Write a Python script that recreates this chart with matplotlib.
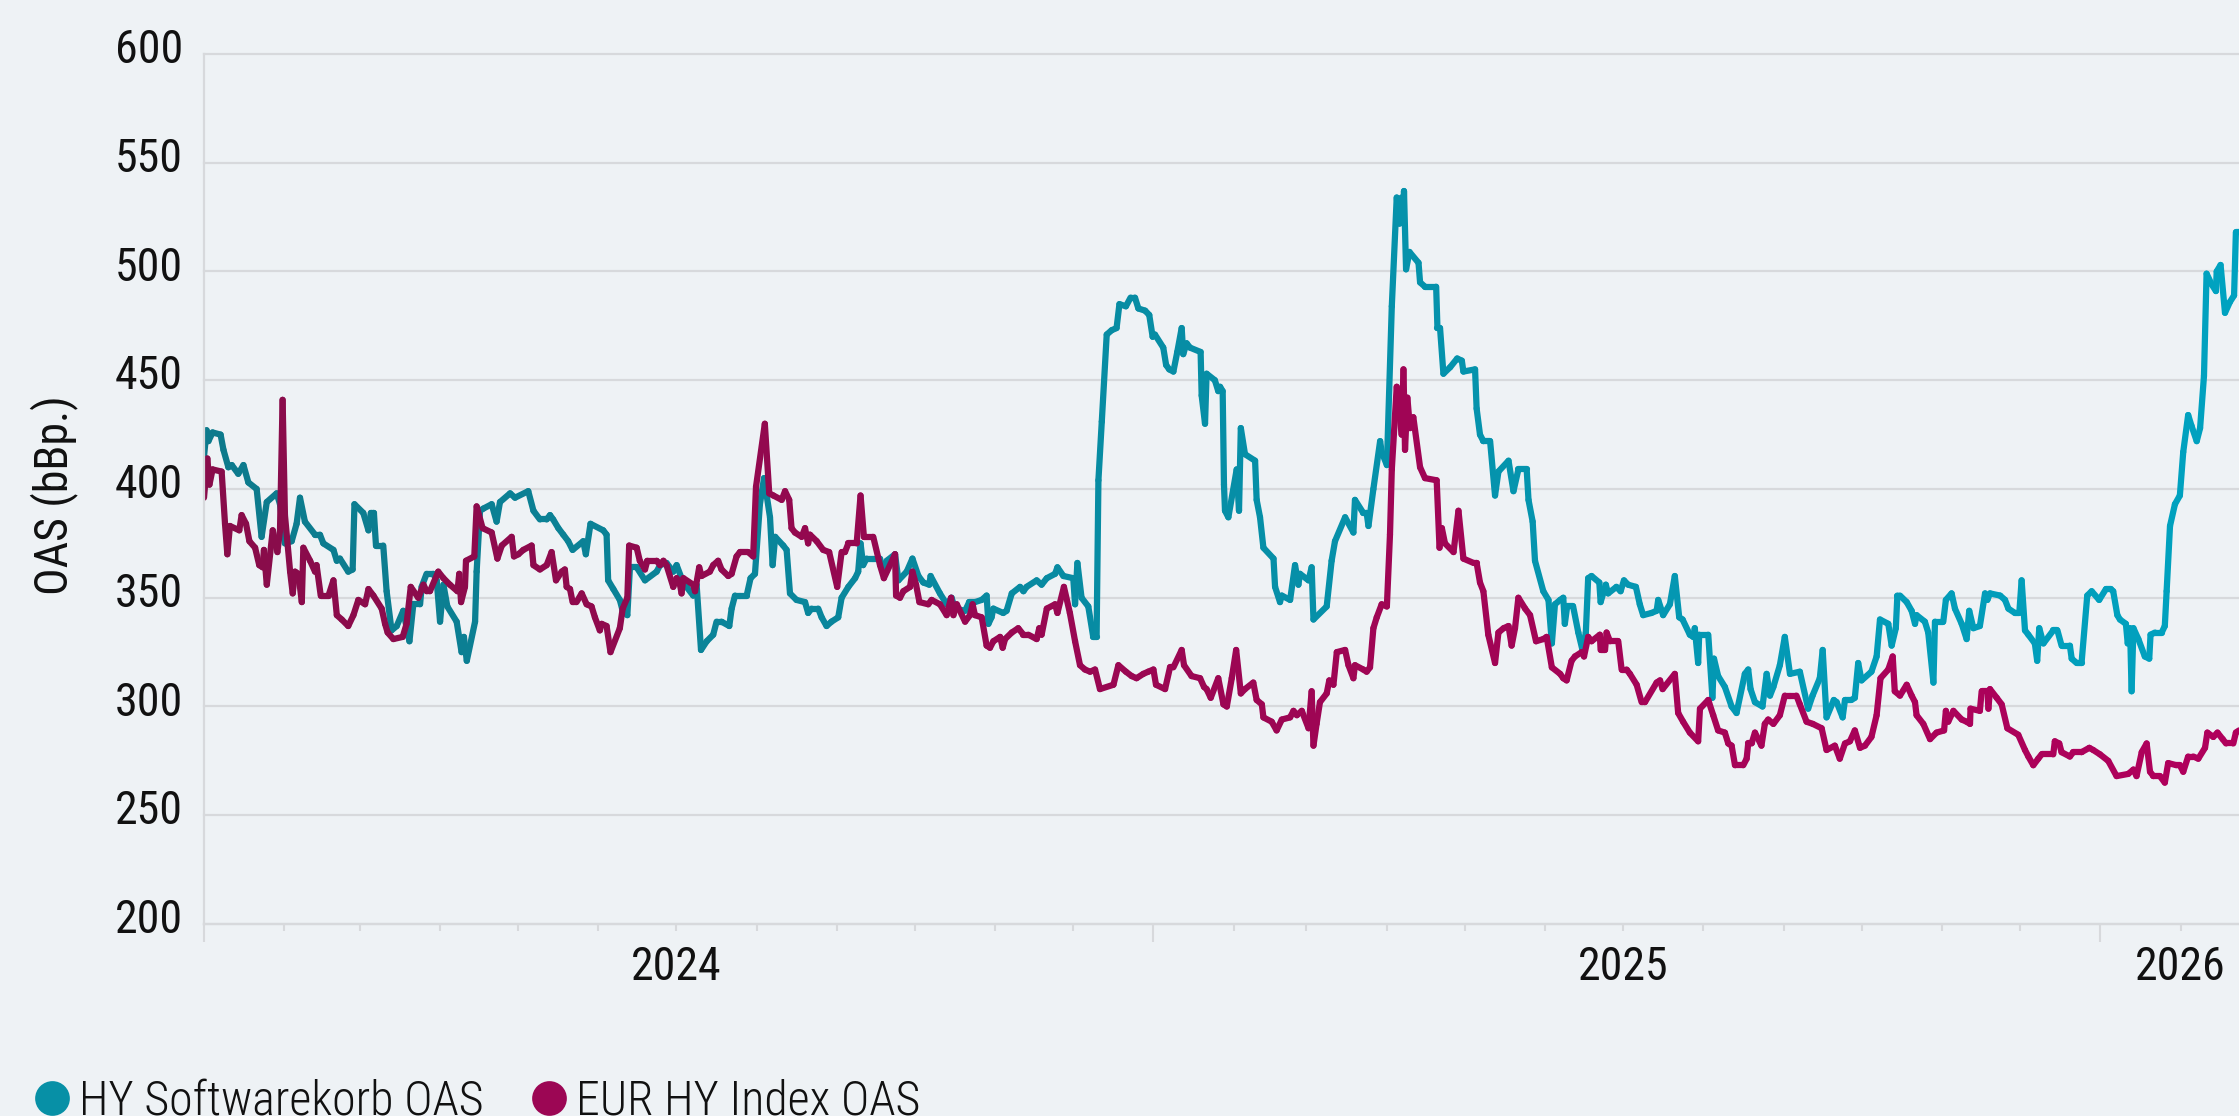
import numpy as np
import pandas as pd
import matplotlib
matplotlib.use('Agg')
import matplotlib.pyplot as plt
import matplotlib.dates as mdates
import matplotlib.transforms as mtransforms
from matplotlib.collections import LineCollection
from matplotlib.colors import LinearSegmentedColormap
from matplotlib.lines import Line2D
from matplotlib import font_manager

# pick a font close to the original (Roboto Condensed if we have it)
avail = {f.name for f in font_manager.fontManager.ttflist}
for fam in ['Roboto Condensed', 'Roboto', 'DejaVu Sans']:
    if fam in avail:
        plt.rcParams['font.family'] = fam
        break

start = pd.Timestamp('2024-01-01')

# HY Softwarekorb OAS: days since 1 Jan 2024 / spread in bp
sw_day = [0, 1, 1.7, 3.3, 6.4, 7.5, 9.4, 10.7, 13.2, 15.2, 17.1, 20.3, 22.2, 24.2, 28.0, 29.3,
          31.2, 33.8, 35.7, 37.0, 38.9, 42.8, 44.7, 46.0, 49.9, 51.2, 52.4, 55.6, 57.3, 58.0,
          61.4, 63.4, 64.3, 65.5, 66.3, 69.1, 70.4, 72.3, 74.3, 76.8, 79.2, 80.7, 83.3, 83.9,
          85.8, 88.4, 89.7, 91.0, 92.3, 93.8, 97.4, 99.3, 100.2, 101.3, 104.5, 105.1, 106.4,
          107.7, 110.9, 112.8, 114.1, 118.0, 119.9, 125.0, 127.0, 129.5,
          132.1, 133.4, 134.6, 136.6, 138.5, 140.4, 142.1, 146.2, 147.2, 149.0, 153.9, 155.2,
          155.8, 157.8, 160.3, 161.4, 163.2, 164.2, 166.8, 170.0, 174.5, 175.8, 178.3, 180.9,
          182.2, 184.1, 186.0, 188.6, 189.9, 191.6, 193.8, 196.3, 197.6, 199.5, 202.5, 203.4,
          204.7, 206.6, 209.2, 210.7, 212.4, 214.3, 215.9, 218.2, 219.2, 220.2, 223.3, 224.6,
          225.9, 228.4, 231.7, 232.9, 234.2, 236.8, 238.1, 240.0, 241.9, 244.5, 245.8, 248.4,
          251.0, 252.2, 253.1, 254.1, 255.4, 258.0, 260.6,
          261.9, 263.2, 266.4, 267.7, 270.9, 273.1, 275.4, 277.3, 279.6, 280.1, 283.7, 286.3,
          288.2, 289.5, 293.4, 295.0, 297.2, 299.8, 301.7, 302.4, 303.6, 304.3, 308.1, 309.4,
          311.4, 314.6, 315.9, 317.1, 321.0, 322.9, 324.9, 328.1, 329.0, 331.3, 335.1, 335.8,
          336.7, 338.3, 340.9, 342.8, 344.1, 344.8, 346.1, 348.0, 349.9, 351.8, 352.9, 355.4,
          357.2, 358.9, 360.2, 362.8, 364.4, 365.7, 366.6, 369.8, 370.9, 372.1, 373.7, 375.2,
          376.9, 377.5, 378.8, 380.1, 384.2, 384.6, 385.9, 386.5, 389.7, 391.0,
          391.7, 392.7, 393.2, 393.6, 394.9, 398.1, 399.0, 399.7, 401.3, 405.2, 405.8, 407.1,
          408.4, 412.3, 412.9, 414.8, 415.5, 418.7, 420.6, 421.9, 422.5, 425.8, 427.0, 427.7,
          432.8, 434.7, 436.0, 439.9, 443.1, 443.7, 446.9, 448.2, 448.9, 450.8, 453.4, 454.0,
          456.0, 457.9, 459.8, 460.8, 461.7, 462.4, 462.6, 463.4, 464.7, 468.2, 468.8, 470.7,
          475.0, 475.5, 476.5, 477.8, 480.4, 483.1, 484.9, 485.5, 490.0, 490.6, 491.9, 493.2,
          495.8, 497.7, 499.0, 502.9, 504.8, 506.7, 509.9, 510.6, 512.2, 513.1, 516.3, 518.3,
          519.6, 520.8, 522.8,
          524.0, 524.6, 525.5, 527.8, 529.8, 531.4, 532.7, 533.6, 534.9, 537.9, 538.4, 540.4,
          541.3, 544.5, 546.1, 547.4, 549.0, 552.0, 553.5, 554.8, 558.0, 560.0, 560.6, 562.5,
          565.1, 567.0, 568.7, 570.0, 572.8, 574.1, 574.7, 576.0, 576.4, 579.9, 581.5, 582.1,
          583.7, 586.3, 588.9, 590.8, 594.0, 595.3, 596.2, 597.9, 600.8, 602.4, 603.7, 605.0,
          607.5, 609.4, 611.4, 615.2, 618.4, 620.1, 622.9, 624.0, 625.5, 628.3, 629.4, 631.7,
          632.6, 635.1, 636.4, 637.7, 639.0, 642.8, 644.8, 646.1, 649.3, 650.6, 652.2, 652.8,
          653.8, 656.4, 658.3, 659.6, 660.2, 663.4, 664.7, 666.7, 667.3, 670.5, 671.5, 673.7,
          675.0, 677.6, 679.5, 680.5, 682.1, 684.6, 686.6, 687.5, 688.5, 692.4, 694.3, 695.6,
          698.1, 699.8, 700.7, 702.0, 703.3, 705.8, 706.7, 707.5, 709.1, 712.9, 714.5, 716.1,
          719.3, 720.0, 721.9, 723.8, 726.0, 727.7, 730.6, 733.2, 735.0, 736.0, 737.6, 738.6,
          740.9, 741.6, 742.5, 743.1, 743.8, 745.7, 748.2, 749.9, 750.4, 752.1, 754.7, 755.9,
          756.6, 757.9, 759.8, 761.7, 763.0, 764.9, 766.2, 768.2, 769.5, 771.0, 772.0, 774.0,
          775.6, 775.9, 777.4, 779.1, 781.0, 782.6, 783.3, 784.5]
sw_oas = [415, 427, 422, 426, 425, 418, 410, 411, 407, 411, 403, 400, 378, 394, 398, 393,
          375, 376, 384, 396, 385, 379, 379, 375, 372, 367, 368, 362, 363, 393,
          389, 381, 389, 389, 374, 374, 353, 335, 337, 344, 330, 347, 347, 355,
          361, 361, 358, 339, 356, 346, 339, 325, 332, 321, 339, 362, 390,
          391, 393, 385, 394, 398, 396, 399, 390, 386,
          386, 388, 386, 382, 379, 376, 372, 376, 370, 384, 381, 379,
          358, 354, 349, 344, 342, 364, 364, 358, 362, 365, 366, 362,
          365, 359, 355, 351, 356, 326, 330, 333, 339, 339, 337, 345,
          351, 351, 351, 359, 361, 393, 405, 387, 365, 378, 374, 372,
          352, 349, 348, 343, 345, 345, 341, 337, 339, 341, 350, 355,
          359, 362, 375, 365, 368, 368, 368,
          362, 367, 370, 358, 362, 368, 360, 357, 356, 360, 352, 347,
          350, 345, 344, 348, 348, 349, 351, 338, 341, 345, 343, 344,
          352, 355, 353, 355, 358, 356, 359, 361, 364, 360, 359, 347,
          366, 350, 346, 332, 332, 404, 431, 471, 473, 474, 485, 484,
          488, 488, 483, 482, 480, 470, 471, 465, 457, 455, 454, 463,
          474, 462, 467, 465, 463, 443, 430, 453, 450, 445,
          447, 445, 402, 390, 387, 409, 390, 428, 416, 413, 395, 387,
          373, 368, 355, 348, 351, 349, 365, 356, 361, 358, 364, 340,
          346, 367, 376, 387, 380, 395, 389, 389, 383, 400, 422, 417,
          411, 484, 534, 522, 534, 522, 537, 501, 509, 504, 495, 493,
          493, 474, 474, 453, 456, 460, 459, 454, 455, 437, 425, 422,
          422, 397, 408, 413, 399, 409, 409, 395, 385, 367, 353, 349,
          329, 347, 349,
          350, 338, 346, 346, 334, 326, 334, 359, 360, 357, 348, 356,
          352, 355, 353, 358, 356, 355, 347, 342, 343, 344, 349, 342,
          347, 360, 341, 340, 333, 332, 336, 320, 333, 333, 304, 322,
          314, 309, 300, 297, 315, 317, 308, 302, 300, 315, 305, 309,
          319, 332, 315, 316, 299, 305, 313, 326, 295, 303, 302, 295,
          303, 303, 304, 320, 312, 316, 323, 340, 338, 328, 336, 351,
          351, 348, 344, 338, 342, 339, 334, 311, 339, 339, 349, 352,
          345, 338, 331, 344, 336, 337, 352, 349, 352, 351, 349, 345,
          343, 343, 358, 335, 333, 329, 321, 336, 329, 335, 335, 328,
          328, 322, 320, 320, 351, 353, 349, 354, 354, 353, 342, 340,
          338, 329, 336, 307, 336, 331, 323, 322, 333, 334, 334, 337,
          353, 383, 393, 397, 417, 434, 429, 422, 428, 452, 499, 494,
          491, 500, 503, 481, 486, 489, 518, 518]

# EUR HY Index OAS
eur_day = [0, 1.3, 2.1, 3.3, 6.8, 8.1, 9.0, 10.0, 13.6, 14.5, 16.2, 17.5, 19.7, 21.3, 22.6,
           23.1, 24.2, 26.5, 28.3, 29.3, 30.3, 31.2, 33.2, 34.2, 35.1, 36.4, 37.7, 38.3, 40.9,
           42.8, 43.4, 45.0, 48.0, 49.9, 51.2, 53.1, 55.6, 57.6, 59.5, 62.1, 63.4, 65.3, 68.5,
           69.8, 70.8, 73.0, 76.6, 78.1, 79.7, 82.6, 84.6, 85.8, 87.1, 90.3, 92.3, 94.8, 97.7,
           98.4, 99.1, 100.6, 101.0, 104.2, 105.1, 107.4, 110.9, 113.1, 114.8, 118.6, 119.5,
           121.2, 123.1, 126.3, 127.0, 129.5,
           132.1, 134.0, 135.7, 137.9, 139.1, 139.8, 141.1, 142.1, 143.6, 145.6, 147.5, 149.4,
           150.7, 152.6, 153.3, 155.2, 156.7, 160.3, 161.4, 163.2, 163.9, 166.8, 168.0, 170.0,
           170.9, 174.5, 175.8, 177.1, 178.3, 180.9, 182.2, 183.5, 184.1, 184.8, 188.6, 189.3,
           190.9, 191.8, 195.0, 196.3, 198.2, 199.5, 202.1, 203.4, 205.3, 206.6, 209.8, 211.7,
           212.8, 216.2, 217.9, 219.5, 222.7, 224.0, 225.6, 226.5, 227.8, 230.4, 231.7, 232.9,
           233.6, 236.2, 238.7, 241.0, 244.1, 245.8, 247.1, 248.4, 251.6, 253.1, 254.4, 258.0,
           260.6,
           262.1, 266.4, 266.8, 268.3, 269.6, 272.2, 273.1, 274.5, 275.8, 279.2, 280.5, 283.7,
           286.3, 288.0, 288.9, 290.2, 293.4, 295.3, 296.3, 297.2, 299.8, 301.7, 303.0, 304.3,
           306.9, 307.9, 308.8, 311.4, 313.9, 315.9, 317.8, 321.0, 322.0, 322.9, 324.9, 328.1,
           329.0, 331.5, 333.8, 335.8, 337.7, 339.6, 341.6, 343.5, 345.4, 350.6, 352.5, 355.4,
           357.6, 359.5, 362.1, 364.0, 366.0, 367.0, 370.5, 372.4, 373.7, 376.9, 377.8, 380.7,
           384.0, 385.5, 386.5, 388.1, 391.0,
           393.0, 394.3, 396.2, 397.9, 399.7, 401.3, 404.5, 405.8, 407.8, 408.4, 411.6, 413.5,
           415.5, 418.7, 420.0, 421.3, 423.2, 425.8, 427.0, 427.7, 428.9, 430.2, 432.8, 433.8,
           435.4, 436.7, 439.9, 441.2, 443.1, 443.7, 446.9, 448.2, 449.5, 450.8, 452.1, 454.0,
           456.0, 457.2, 457.9, 459.8, 461.7, 462.4, 463.0, 463.9, 464.9, 466.2, 468.8, 470.7,
           475.2, 476.3, 477.2, 478.4, 481.7, 483.6, 485.5, 489.4, 490.6, 491.9, 493.2, 495.1,
           497.7, 499.0, 501.0, 502.9, 504.1, 505.4, 506.7, 509.3, 511.2, 513.5, 516.3, 517.6,
           519.6, 522.8,
           524.0, 525.3, 527.2, 528.5, 531.1, 532.0, 533.6, 534.9, 538.1, 538.4, 540.1, 540.7,
           542.0, 545.2, 546.5, 548.4, 549.7, 552.3, 554.2, 555.5, 560.0, 561.3, 562.3, 567.0,
           568.3, 570.2, 572.8, 576.0, 576.7, 579.9, 581.8, 583.7, 586.3, 587.6, 588.9, 590.2,
           593.4, 594.7, 595.3, 596.6, 597.9, 600.4, 601.7, 603.0, 605.0, 607.5, 609.4, 611.4,
           613.9, 615.2, 617.8, 620.2, 623.6, 625.5, 628.7, 630.6, 632.6, 634.5, 636.4, 638.4,
           640.3, 642.8, 644.8, 646.3, 649.3, 651.0, 651.8, 653.8,
           656.4, 658.3, 659.6, 660.2, 662.8, 665.4, 667.9, 670.8, 671.5, 672.4, 674.4, 677.6,
           679.5, 680.8, 681.0, 684.6, 685.3, 687.5, 687.9, 688.5, 691.1, 693.0, 695.2, 699.4,
           702.0, 703.3, 705.2, 707.1, 708.4, 712.9, 713.5, 715.2, 716.1, 719.3, 720.6, 723.8,
           726.8, 728.3, 730.9, 734.1, 737.3, 741.8, 743.8, 745.0, 747.0, 748.9, 750.2, 751.5,
           754.0, 755.9, 757.2, 760.4, 761.7, 763.0, 764.9, 766.9, 768.8, 771.4, 772.3, 774.6,
           776.2, 778.2, 779.5, 782.3, 783.3, 784.5]
eur_oas = [396, 414, 402, 409, 408, 384, 370, 383, 381, 388, 384, 376, 373, 365, 364,
           372, 356, 381, 371, 381, 441, 388, 362, 352, 362, 361, 348, 373, 367,
           362, 365, 351, 351, 358, 342, 340, 337, 342, 349, 347, 354, 351, 345,
           338, 334, 331, 332, 338, 355, 350, 356, 353, 353, 362, 359, 356, 353,
           361, 348, 355, 367, 369, 392, 382, 380, 368, 374, 378, 369,
           370, 372, 374, 365, 363,
           365, 371, 358, 362, 363, 355, 354, 348, 348, 352, 347, 346,
           341, 335, 338, 337, 325, 336, 345, 350, 374, 373, 367, 363,
           367, 367, 365, 367, 365, 355, 359, 356, 352, 359, 356, 353,
           364, 360, 362, 365, 367, 363, 360, 361, 369, 371, 371, 369,
           401, 430, 398, 397, 395, 399, 395, 382, 380, 378, 382, 375,
           379, 376, 372, 371, 355, 371, 371, 375, 375, 397, 378, 378,
           365,
           359, 370, 351, 350, 353, 355, 362, 356, 348, 347, 349, 347,
           342, 350, 342, 347, 339, 342, 347, 342, 341, 328, 327, 330,
           332, 327, 331, 334, 336, 333, 333, 331, 336, 333, 345, 347,
           343, 355, 343, 330, 319, 317, 316, 317, 308, 310, 319, 316,
           314, 313, 315, 316, 317, 310, 308, 318, 318, 326, 319, 314,
           313, 309, 308, 304, 313,
           301, 300, 313, 326, 306, 308, 311, 303, 301, 295, 293, 289,
           294, 295, 298, 296, 298, 290, 307, 282, 292, 302, 306, 312,
           310, 325, 326, 319, 313, 319, 317, 316, 318, 336, 341, 347,
           346, 379, 409, 447, 425, 455, 418, 442, 428, 433, 410, 405,
           404, 373, 382, 375, 371, 390, 368, 366, 366, 357, 353, 333,
           320, 334, 336, 337, 328, 336, 350, 345, 342, 330, 331, 332,
           318, 315,
           313, 312, 321, 323, 325, 323, 332, 330, 333, 326, 326, 334,
           330, 330, 317, 317, 315, 310, 302, 302, 311, 312, 308, 315,
           297, 293, 288, 284, 299, 303, 296, 289, 288, 283, 282, 273,
           273, 276, 283, 283, 288, 282, 292, 294, 292, 296, 305, 305,
           305, 301, 293, 292, 290, 280, 282, 276, 283, 284, 289, 281,
           282, 286, 296, 313, 317, 323, 307, 305,
           310, 305, 302, 296, 292, 285, 288, 289, 298, 293, 298, 294,
           293, 292, 299, 298, 307, 307, 299, 308, 304, 301, 290, 287,
           280, 277, 273, 276, 278, 278, 284, 283, 279, 277, 279, 279,
           281, 280, 278, 275, 268, 269, 271, 268, 279, 283, 270, 268,
           268, 265, 274, 273, 273, 270, 277, 277, 276, 281, 288, 286,
           288, 285, 283, 283, 288, 289]

series_labels = ['HY Softwarekorb OAS', 'EUR HY Index OAS']
y_ticks = [200, 250, 300, 350, 400, 450, 500, 550, 600]
year_labels = ['2024', '2025', '2026']
year_label_dates = ['2024-07-01', '2025-07-01', '2026-02-01']

bg = '#eef2f5'
grid_c = '#d7d9dc'
text_c = '#111111'
teal = ('#0d7a8c', '#00a2c0')
berry = ('#880c4a', '#b0005c')

sw_dates = start + pd.to_timedelta(np.array(sw_day), unit='D')
eur_dates = start + pd.to_timedelta(np.array(eur_day), unit='D')
x_lo = mdates.date2num(start)
x_hi = mdates.date2num(sw_dates[-1])


def gradient_line(ax, dates, values, c0, c1, lw=4.5):
    x = mdates.date2num(dates.to_numpy())
    y = np.asarray(values, dtype=float)
    pts = np.column_stack([x, y]).reshape(-1, 1, 2)
    segs = np.concatenate([pts[:-1], pts[1:]], axis=1)
    cmap = LinearSegmentedColormap.from_list('grad', [c0, c1])
    mid = (x[:-1] + x[1:]) / 2
    lc = LineCollection(segs, colors=cmap((mid - x_lo) / (x_hi - x_lo)),
                        linewidths=lw, capstyle='round', joinstyle='round')
    ax.add_collection(lc)


fig = plt.figure(figsize=(22.39, 11.16), dpi=100, facecolor=bg)
ax = fig.add_axes([204 / 2239, 192 / 1116, 2035 / 2239, 870 / 1116], facecolor=bg)

gradient_line(ax, sw_dates, sw_oas, *teal)
gradient_line(ax, eur_dates, eur_oas, *berry)

ax.set_xlim(x_lo, x_hi)
ax.set_ylim(200, 600)

# y axis
ax.set_yticks(y_ticks)
ax.tick_params(axis='y', length=0, pad=15, labelsize=33, labelcolor=text_c)
lift = mtransforms.ScaledTranslation(0, 6 / 72, fig.dpi_scale_trans)
for lab in ax.get_yticklabels():
    lab.set_transform(lab.get_transform() + lift)
ax.grid(axis='y', color=grid_c, linewidth=1.6)
for gl in ax.get_ygridlines():
    gl.set_clip_on(False)
ax.set_axisbelow(True)

# x axis: long ticks at year starts, short monthly ticks, year labels mid-period
ax.xaxis.set_major_locator(mdates.YearLocator())
ax.xaxis.set_minor_locator(mdates.MonthLocator())
ax.xaxis.set_major_formatter(plt.NullFormatter())
ax.tick_params(axis='x', which='major', length=13, width=1.5, color=grid_c)
ax.tick_params(axis='x', which='minor', length=5, width=1.5, color=grid_c)
for lab, d in zip(year_labels, year_label_dates):
    ax.text(mdates.date2num(pd.Timestamp(d)), -0.049, lab, transform=ax.get_xaxis_transform(),
            ha='center', va='center', fontsize=33, color=text_c)

for s in ['top', 'right']:
    ax.spines[s].set_visible(False)
for s in ['left', 'bottom']:
    ax.spines[s].set_color(grid_c)
    ax.spines[s].set_linewidth(1.6)

fig.text(54 / 2239, 0.556, 'OAS (bBp.)', rotation=90, ha='center', va='center',
         fontsize=33, color=text_c)

handles = [Line2D([], [], ls='', marker='o', markersize=25, markeredgewidth=0, color=c)
           for c in ['#0790a6', '#9c0654']]
fig.legend(handles, series_labels, loc='lower left', bbox_to_anchor=(0.0147, -0.008),
           bbox_transform=fig.transFigure, ncol=2, frameon=False,
           prop={'size': 34.5, 'weight': 'light'},
           handlelength=0.8, handletextpad=0.17, columnspacing=0.95, borderpad=0,
           borderaxespad=0, labelcolor=text_c)

fig.savefig('out.png', dpi=100, facecolor=bg)
